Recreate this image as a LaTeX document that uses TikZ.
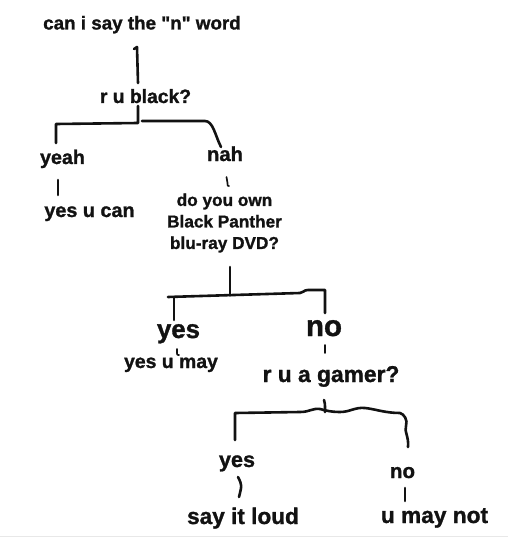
\documentclass[tikz,border=0pt]{standalone}
\usepackage{fontspec}
\newfontfamily\memefont[FakeBold=1.2]{Liberation Sans}
\usetikzlibrary{positioning}

\definecolor{ink}{HTML}{121212}

\begin{document}
\begin{tikzpicture}[
    x=1pt, y=-1pt,
    lbl/.style={anchor=base, inner sep=0pt, text=ink, font=\memefont\bfseries\fontsize{#1}{#1}\selectfont},
    pen/.style={ink, line width=2.6pt, line cap=round, line join=round},
    tick/.style={ink, line width=1.7pt, line cap=round, line join=round}
]

% White page
\path [fill=white, use as bounding box] (0, 0) rectangle (508, 540);
\draw[gray!18, line width=1pt] (0, 536) -- (508, 536);

% ==================== FIRST QUESTION ====================

\node[lbl=18.8] (ask) at (142, 29.5) {can i say the "n" word};
\node[lbl=19.3] (black) at (145.5, 103) {r u black?};
\draw[pen] ([shift={(-8,19.5)}]ask.base) -- ++(3,-2) -- ([shift={(-7.5,-20)}]black.base);

% Answers
\node[lbl=19.7] (yeah) at (62.5, 164) {yeah};
\node[lbl=20.2] (nah) at (225, 161) {nah};
\draw[pen] ([shift={(-7.5,3)}]black.base) -- (138, 123) -- (56, 124) -- ([shift={(-6.5,-21)}]yeah.base);
\draw[pen] ([shift={(-3.5,18)}]black.base) -- (205, 121) .. controls (213, 121) and (215, 135) .. ([shift={(-4,-14)}]nah.base);

\node[lbl=19.8] (canyes) at (89.5, 217) {yes u can};
\draw[pen] ([shift={(-4.5,16)}]yeah.base) -- ([shift={(-31.5,-22)}]canyes.base);

% Second question
\node[anchor=center, inner sep=0pt, text=ink, align=center,
      font=\memefont\bfseries\fontsize{17.2}{21.5}\selectfont] (panther) at (224.5, 223)
      {do you own\\Black Panther\\blu-ray DVD?};
\draw[tick] ([shift={(1.5,16)}]nah.base) -- (227.5, 183) .. controls (227.5, 186) .. ([shift={(4.5,-37)}]panther.center);

% ==================== SECOND SPLIT ====================

\node[lbl=25.8] (bigyes) at (178.5, 338) {yes};
\node[lbl=29.5] (bigno) at (324, 336) {no};

\draw[pen] ([shift={(5.5,44)}]panther.center) -- (230, 295.5);
\draw[pen] ([shift={(-10.5,-41)}]bigyes.base) -- (300, 293) .. controls (304, 293) and (303, 290) .. (308, 290) -- (325, 290) -- ([shift={(1,-23)}]bigno.base);
\draw[pen] ([shift={(-4.5,-41)}]bigyes.base) -- ([shift={(-4.5,-18)}]bigyes.base);

\node[lbl=19.4] (mayyes) at (171, 368) {yes u may};
\draw[tick] ([shift={(-1.5,11)}]bigyes.base) -- (177, 353) .. controls (177, 355) .. ([shift={(8,-13)}]mayyes.base);

\node[lbl=22.8] (gamer) at (331, 382) {r u a gamer?};
\draw[tick] ([shift={(1,9)}]bigno.base) -- ([shift={(-6,-29)}]gamer.base);

% ==================== THIRD SPLIT ====================

\node[lbl=21.6] (lowyes) at (237, 467) {yes};
\node[lbl=20.5] (lowno) at (402.5, 478) {no};

\draw[pen] ([shift={(-7,18)}]gamer.base) .. controls (325, 403) .. ([shift={(-6,30)}]gamer.base);
\draw[pen] ([shift={(-2,-27)}]lowyes.base) -- (235, 413) -- (300, 412)
    .. controls (310, 412) and (312, 408) .. (320, 409)
    .. controls (324, 410) and (330, 412) .. (340, 412)
    .. controls (350, 412) and (355, 407) .. (365, 408)
    .. controls (375, 409) and (385, 413) .. (400, 413)
    .. controls (404, 414) and (408, 420) .. (406, 426)
    .. controls (404, 432) and (409, 436) .. ([shift={(5.5,-31)}]lowno.base);

\node[lbl=22.6] (loud) at (243, 524) {say it loud};
\node[lbl=22.7] (maynot) at (434.5, 523) {u may not};

\draw[pen] ([shift={(1,10)}]lowyes.base) .. controls (242, 485) .. ([shift={(-4,-27)}]loud.base);
\draw[pen] ([shift={(2.5,10)}]lowno.base) -- ([shift={(-29.5,-22)}]maynot.base);

\end{tikzpicture}
\end{document}
